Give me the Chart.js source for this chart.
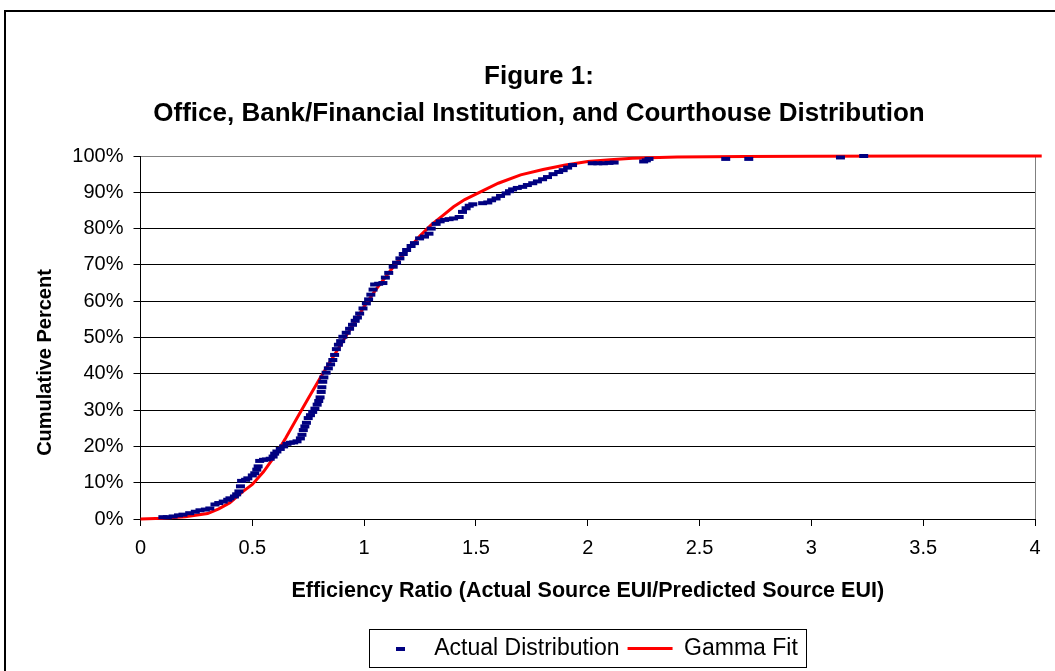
<!DOCTYPE html>
<html>
<head>
<meta charset="utf-8">
<title>Figure 1</title>
<script src="https://cdn.jsdelivr.net/npm/chart.js@4.4.1/dist/chart.umd.min.js"></script>
<style>
    html, body {
        margin: 0;
        padding: 0;
        background: #ffffff;
        overflow: hidden;
    }

    #chartBox {
        position: relative;
        width: 1055px;
        height: 671px;
    }
</style>
</head>
<body>
<div id="chartBox">
    <canvas id="figureChart"></canvas>
</div>
<script>
"use strict";

// Actual distribution: efficiency ratio vs cumulative percent
const actualRatio = [
    0.10, 0.12, 0.146, 0.17, 0.19, 0.22, 0.245, 0.266, 0.29, 0.31,
    0.333, 0.35, 0.37, 0.39, 0.40, 0.42, 0.43, 0.44, 0.447, 0.452,
    0.47, 0.48, 0.50, 0.511, 0.52, 0.526, 0.533, 0.55, 0.563, 0.58,
    0.593, 0.60, 0.61, 0.625, 0.64, 0.655, 0.67, 0.685, 0.70, 0.715,
    0.722, 0.728, 0.735, 0.742, 0.75, 0.76, 0.77, 0.78, 0.79, 0.797,
    0.803, 0.808, 0.811, 0.815, 0.82, 0.83, 0.84, 0.85, 0.86, 0.868,
    0.876, 0.885, 0.895, 0.905, 0.92, 0.935, 0.948, 0.96, 0.97, 0.98,
    0.995, 1.01, 1.02, 1.03, 1.04, 1.047, 1.065, 1.084, 1.095, 1.11,
    1.13, 1.145, 1.16, 1.175, 1.19, 1.21, 1.225, 1.248, 1.27, 1.29,
    1.30, 1.322, 1.34, 1.36, 1.38, 1.40, 1.425, 1.44, 1.456, 1.47,
    1.486, 1.53, 1.553, 1.57, 1.59, 1.61, 1.635, 1.65, 1.664, 1.685,
    1.709, 1.73, 1.754, 1.775, 1.798, 1.82, 1.845, 1.87, 1.89, 1.91,
    1.932, 2.02, 2.045, 2.07, 2.095, 2.118, 2.25, 2.262, 2.274, 2.617,
    2.72, 3.13, 3.234
];

const actualPercent = [
    0.5, 0.5, 0.7, 1.0, 1.2, 1.6, 2.0, 2.4, 2.6, 2.9,
    4.0, 4.4, 4.8, 5.3, 5.7, 6.2, 6.8, 7.6, 9.0, 10.5,
    10.8, 11.2, 12.0, 12.6, 13.6, 14.5, 16.0, 16.3, 16.4, 16.6,
    17.2, 18.0, 18.6, 19.3, 20.0, 20.7, 21.0, 21.1, 21.4, 22.2,
    23.2, 24.5, 25.5, 26.5, 27.8, 28.6, 29.5, 30.4, 31.5, 32.5,
    33.5, 35.0, 36.3, 37.8, 39.0, 40.3, 41.5, 42.6, 43.8, 45.2,
    46.8, 48.0, 49.0, 50.2, 51.3, 52.4, 53.5, 54.6, 55.5, 56.6,
    58.0, 59.4, 60.5, 61.8, 63.2, 64.6, 64.8, 65.0, 66.5, 67.8,
    69.5, 70.6, 71.8, 73.0, 74.1, 75.2, 76.0, 77.3, 77.8, 78.6,
    80.0, 81.3, 82.0, 82.4, 82.6, 82.8, 83.2, 84.6, 85.6, 86.3,
    86.7, 87.0, 87.2, 87.8, 88.3, 89.0, 89.7, 90.3, 90.8, 91.2,
    91.5, 92.0, 92.5, 93.0, 93.6, 94.2, 95.0, 95.6, 96.1, 96.8,
    97.5, 98.0, 98.0, 98.0, 98.1, 98.2, 98.5, 98.8, 99.2, 99.2,
    99.2, 99.6, 100
];

// Gamma fit curve
const gammaRatio = [
    0, 0.1, 0.2, 0.3, 0.35, 0.4, 0.45, 0.5, 0.55, 0.6,
    0.65, 0.7, 0.75, 0.8, 0.85, 0.9, 0.95, 1.0, 1.05, 1.1,
    1.15, 1.2, 1.25, 1.3, 1.35, 1.4, 1.45, 1.5, 1.6, 1.7,
    1.8, 1.9, 2.0, 2.1, 2.2, 2.4, 2.7, 3.0, 3.5, 4.03
];

const gammaPercent = [
    0, 0.2, 0.6, 1.5, 2.8, 4.5, 7.2, 9.5, 13, 17.3,
    22.4, 27.8, 33.2, 38.5, 43.5, 48.5, 53.5, 58.5, 63, 67,
    71, 74.5, 78, 81, 83.5, 86, 88, 89.5, 92.5, 94.8,
    96.3, 97.5, 98.5, 99, 99.4, 99.7, 99.85, 99.9, 99.97, 100
];

const xTickValues = [0, 0.5, 1, 1.5, 2, 2.5, 3, 3.5, 4];
const xTickLabels = ["0", "0.5", "1", "1.5", "2", "2.5", "3", "3.5", "4"];
const yTickValues = [0, 10, 20, 30, 40, 50, 60, 70, 80, 90, 100];
const yTickLabels = [
    "0%", "10%", "20%", "30%", "40%", "50%",
    "60%", "70%", "80%", "90%", "100%"
];

const NAVY = "#000080";
const RED = "#ff0000";
const FONT_FAMILY = "'Liberation Sans', Arial, sans-serif";
const LEGEND_PAD = 8;

// outer frame of the original chart object (runs off the right and bottom)
const framePlugin = {
    id: "frame",
    beforeDraw(chart) {
        const ctx = chart.ctx;
        ctx.save();
        ctx.strokeStyle = "#000000";
        ctx.lineWidth = 2;
        ctx.beginPath();
        ctx.moveTo(5, chart.height + 2);
        ctx.lineTo(5, 11);
        ctx.lineTo(chart.width + 2, 11);
        ctx.stroke();
        ctx.restore();
    }
};

// box round the legend entries
const legendBoxPlugin = {
    id: "legendBox",
    afterDraw(chart) {
        const boxes = chart.legend && chart.legend.legendHitBoxes;
        if (!boxes || !boxes.length) {
            return;
        }
        const first = boxes[0];
        const last = boxes[boxes.length - 1];
        const left = Math.round(first.left - 9) + 0.5;
        const right = Math.round(last.left + last.width + 8) + 0.5;
        const top = Math.round(first.top - LEGEND_PAD) + 0.5;
        const bottom = Math.round(first.top + first.height + LEGEND_PAD - 1) + 0.5;
        const ctx = chart.ctx;
        ctx.save();
        ctx.strokeStyle = "#000000";
        ctx.lineWidth = 1;
        ctx.strokeRect(left, top, right - left, bottom - top);
        ctx.restore();
    }
};

const FigureController = {

    chart: null,

    initialize() {
        Chart.defaults.font.family = FONT_FAMILY;
        Chart.defaults.color = "#000000";
        this.createChart();
    },

    toPoints(xs, ys) {
        return xs.map((x, index) => ({ x, y: ys[index] }));
    },

    makeDashImage() {
        const dash = document.createElement("canvas");
        dash.width = 9;
        dash.height = 4;
        const dctx = dash.getContext("2d");
        dctx.fillStyle = NAVY;
        dctx.fillRect(0, 0, 9, 4);
        return dash;
    },

    createChart() {
        const canvas = document.getElementById("figureChart");
        if (!canvas) {
            return;
        }

        const dashImage = this.makeDashImage();

        this.chart = new Chart(canvas, {
            type: "scatter",
            data: {
                datasets: [
                    {
                        label: "Actual Distribution",
                        data: this.toPoints(actualRatio, actualPercent),
                        showLine: false,
                        pointStyle: "line",
                        pointRadius: 4.5,
                        pointHoverRadius: 4.5,
                        pointBorderWidth: 4,
                        borderColor: NAVY,
                        backgroundColor: NAVY,
                        clip: false
                    },
                    {
                        label: "Gamma Fit",
                        data: this.toPoints(gammaRatio, gammaPercent),
                        showLine: true,
                        borderColor: RED,
                        borderWidth: 3,
                        pointRadius: 0,
                        pointHoverRadius: 0,
                        tension: 0,
                        fill: false,
                        clip: false
                    }
                ]
            },
            options: {
                responsive: true,
                maintainAspectRatio: false,
                animation: false,
                layout: {
                    padding: { left: 43, right: 20, top: 0, bottom: 1 }
                },
                plugins: {
                    tooltip: { enabled: false },
                    title: {
                        display: true,
                        text: [
                            "Figure 1:",
                            "Office, Bank/Financial Institution, and Courthouse Distribution"
                        ],
                        color: "#000000",
                        font: { size: 26, weight: "bold", lineHeight: 37 / 26 },
                        padding: { top: 58, bottom: 24 }
                    },
                    legend: {
                        display: true,
                        position: "bottom",
                        fullSize: false,
                        labels: {
                            usePointStyle: true,
                            pointStyleWidth: 45,
                            boxHeight: 23,
                            padding: LEGEND_PAD,
                            color: "#000000",
                            font: { size: 23 },
                            generateLabels() {
                                return [
                                    {
                                        text: "Actual Distribution",
                                        pointStyle: dashImage,
                                        fillStyle: NAVY,
                                        strokeStyle: NAVY,
                                        lineWidth: 0,
                                        hidden: false,
                                        datasetIndex: 0
                                    },
                                    {
                                        text: "Gamma Fit",
                                        pointStyle: "line",
                                        fillStyle: RED,
                                        strokeStyle: RED,
                                        lineWidth: 3,
                                        hidden: false,
                                        datasetIndex: 1
                                    }
                                ];
                            }
                        }
                    }
                },
                scales: {
                    x: {
                        type: "linear",
                        min: 0,
                        max: 4,
                        afterBuildTicks(scale) {
                            scale.ticks = xTickValues.map(value => ({ value }));
                        },
                        afterFit(scale) {
                            scale.height = 110;
                        },
                        ticks: {
                            padding: 10,
                            maxRotation: 0,
                            color: "#000000",
                            font: { size: 20 },
                            callback(value, index) {
                                return xTickLabels[index];
                            }
                        },
                        grid: {
                            drawOnChartArea: true,
                            tickLength: 7,
                            tickColor: "#000000",
                            color(context) {
                                return context.tick && context.tick.value === 4
                                    ? "#808080"
                                    : "rgba(0,0,0,0)";
                            }
                        },
                        border: { color: "#000000", width: 1 },
                        title: {
                            display: true,
                            text: "Efficiency Ratio (Actual Source EUI/Predicted Source EUI)",
                            color: "#000000",
                            font: { size: 21.5, weight: "bold" },
                            padding: { top: 0, bottom: 25 }
                        }
                    },
                    y: {
                        type: "linear",
                        min: 0,
                        max: 100,
                        afterBuildTicks(scale) {
                            scale.ticks = yTickValues.map(value => ({ value }));
                        },
                        afterFit(scale) {
                            scale.width = 97.5;
                        },
                        ticks: {
                            padding: 10,
                            color: "#000000",
                            font: { size: 20 },
                            callback(value, index) {
                                return yTickLabels[index];
                            }
                        },
                        grid: {
                            tickLength: 7,
                            tickColor: "#000000",
                            color(context) {
                                return context.tick && context.tick.value === 100
                                    ? "#808080"
                                    : "#000000";
                            }
                        },
                        border: { color: "#000000", width: 1 },
                        title: {
                            display: true,
                            // trailing no-break spaces push the visible text down, as in the original
                            text: "Cumulative Percent" + "\u00a0".repeat(9),
                            color: "#000000",
                            font: { size: 20, weight: "bold" },
                            padding: { top: -10, bottom: 0 }
                        }
                    }
                }
            },
            plugins: [framePlugin, legendBoxPlugin]
        });
    }
};

document.addEventListener("DOMContentLoaded", () => {
    try {
        FigureController.initialize();
    } catch (error) {
        console.error("Chart initialization failed", error);
    }
});
</script>
</body>
</html>
